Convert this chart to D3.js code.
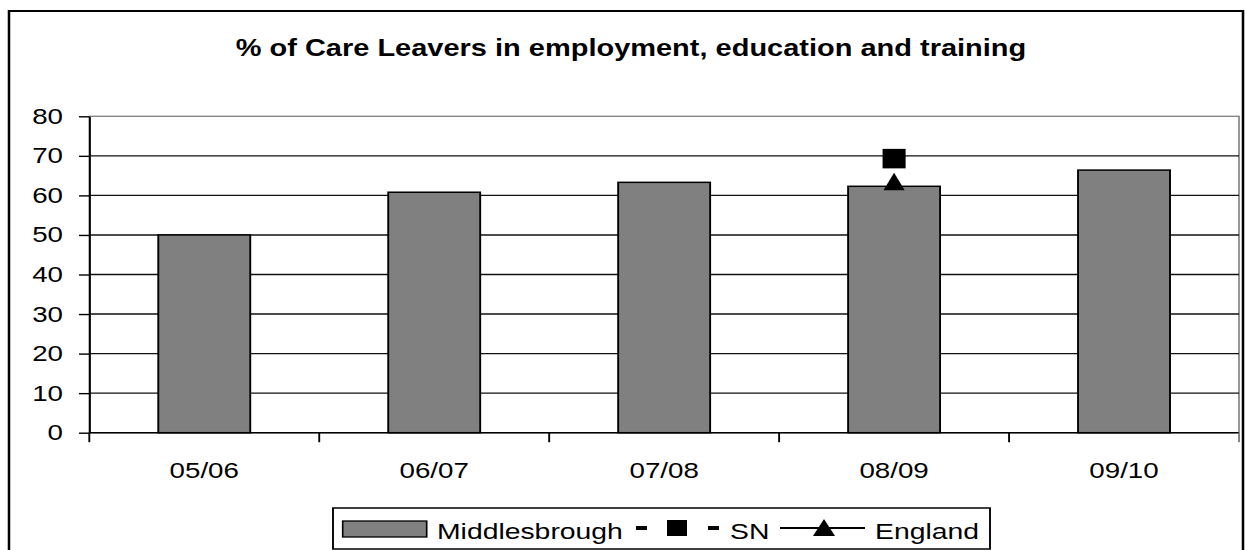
<!DOCTYPE html>
<html>
<head>
<meta charset="utf-8">
<script src="https://cdn.jsdelivr.net/npm/d3@7/dist/d3.min.js"></script>
<style>
  html, body { margin: 0; padding: 0; background: #fff; }
  svg { display: block; font-family: Arial, 'Liberation Sans', sans-serif; }
</style>
</head>
<body>
<div id="chart"></div>
<script>
// data
const periods = ['05/06', '06/07', '07/08', '08/09', '09/10'];
const middlesbrough = [50, 60.8, 63.3, 62.3, 66.4];
const snPoints = [{ period: '08/09', value: 69.3 }];
const englandPoints = [{ period: '08/09', value: 63.5 }];
const yTicks = [0, 10, 20, 30, 40, 50, 60, 70, 80];

function drawChart() {
    const outW = 1245, outH = 550;
    // the original picture is stretched sideways, so draw in a narrower box and stretch it
    const sx = 1.26;
    const W = outW / sx;
    const plot = { left: 89.3 / sx, right: 1239 / sx, top: 116.3, bottom: 432.7 };

    const svg = d3.select('#chart')
        .append('svg')
        .attr('width', outW)
        .attr('height', outH)
        .attr('viewBox', `0 0 ${W} ${outH}`)
        .attr('preserveAspectRatio', 'none');

    // outer chart border
    svg.append('rect')
        .attr('x', 9 / sx)
        .attr('y', 11)
        .attr('width', (1243 - 9) / sx)
        .attr('height', 560)
        .attr('fill', '#fff')
        .attr('stroke', '#000')
        .attr('stroke-width', 2);

    // title
    svg.append('text')
        .attr('x', 631 / sx)
        .attr('y', 56)
        .attr('text-anchor', 'middle')
        .attr('font-size', 23)
        .attr('font-weight', 'bold')
        .text('% of Care Leavers in employment, education and training');

    // scales
    const x = d3.scaleBand()
        .domain(periods)
        .range([plot.left, plot.right])
        .paddingInner(0.6)
        .paddingOuter(0.3);
    const y = d3.scaleLinear()
        .domain([0, 80])
        .range([plot.bottom, plot.top]);

    // plot area border (grey)
    svg.append('rect')
        .attr('x', plot.left)
        .attr('y', plot.top)
        .attr('width', plot.right - plot.left)
        .attr('height', plot.bottom - plot.top)
        .attr('fill', 'none')
        .attr('stroke', '#808080')
        .attr('stroke-width', 1.3);

    // gridlines
    svg.append('g')
        .selectAll('line')
        .data(yTicks.filter(d => d > 0 && d < 80))
        .join('line')
        .attr('x1', plot.left)
        .attr('x2', plot.right)
        .attr('y1', d => y(d))
        .attr('y2', d => y(d))
        .attr('stroke', '#111')
        .attr('stroke-width', 1.4);

    // bars
    svg.append('g')
        .selectAll('rect')
        .data(periods)
        .join('rect')
        .attr('x', d => x(d))
        .attr('y', (d, i) => y(middlesbrough[i]))
        .attr('width', x.bandwidth())
        .attr('height', (d, i) => y(0) - y(middlesbrough[i]))
        .attr('fill', '#808080')
        .attr('stroke', '#000')
        .attr('stroke-width', 1.5);

    // y axis
    const yAxis = svg.append('g')
        .attr('transform', `translate(${plot.left},0)`)
        .call(d3.axisLeft(y).tickValues(yTicks).tickSize(8.2).tickSizeOuter(0).tickPadding(12.7));
    yAxis.select('.domain').attr('stroke', '#000').attr('stroke-width', 1.5);
    yAxis.selectAll('.tick line').attr('stroke', '#000').attr('stroke-width', 1.4);
    yAxis.selectAll('.tick text')
        .attr('font-size', 22)
        .attr('font-family', "Arial, 'Liberation Sans', sans-serif")
        .attr('fill', '#000');

    // x axis line and category boundary ticks
    svg.append('line')
        .attr('x1', plot.left)
        .attr('x2', plot.right)
        .attr('y1', y(0))
        .attr('y2', y(0))
        .attr('stroke', '#000')
        .attr('stroke-width', 1.5);
    const edges = periods.map(p => x(p) - x.step() * x.paddingInner() / 2);
    edges.push(plot.right);
    svg.append('g')
        .selectAll('line')
        .data(edges)
        .join('line')
        .attr('x1', d => d)
        .attr('x2', d => d)
        .attr('y1', y(0))
        .attr('y2', y(0) + 9.5)
        .attr('stroke', (d, i) => i === edges.length - 1 ? '#808080' : '#000')
        .attr('stroke-width', 1.5);
    svg.append('g')
        .selectAll('text')
        .data(periods)
        .join('text')
        .attr('x', d => x(d) + x.bandwidth() / 2)
        .attr('y', 478)
        .attr('text-anchor', 'middle')
        .attr('font-size', 22)
        .text(d => d);

    // SN markers (squares)
    const sq = 18.3, sqH = 19.5;
    svg.append('g')
        .selectAll('rect')
        .data(snPoints)
        .join('rect')
        .attr('x', d => x(d.period) + x.bandwidth() / 2 - sq / 2)
        .attr('y', d => y(d.value) - sqH / 2)
        .attr('width', sq)
        .attr('height', sqH)
        .attr('fill', '#000');

    // England markers (triangles)
    const triW = 8.4, triH = 17.4;
    const tri = (cx, cy) => `M${cx},${cy - triH / 2}L${cx + triW},${cy + triH / 2}L${cx - triW},${cy + triH / 2}Z`;
    svg.append('g')
        .selectAll('path')
        .data(englandPoints)
        .join('path')
        .attr('d', d => tri(x(d.period) + x.bandwidth() / 2, y(d.value)))
        .attr('fill', '#000');

    // legend
    const lg = svg.append('g');
    lg.append('rect')
        .attr('x', 333 / sx)
        .attr('y', 508)
        .attr('width', (990 - 333) / sx)
        .attr('height', 41)
        .attr('fill', '#fff')
        .attr('stroke', '#000')
        .attr('stroke-width', 1.5);
    lg.append('rect')
        .attr('x', 342.7 / sx)
        .attr('y', 521)
        .attr('width', 84 / sx)
        .attr('height', 16)
        .attr('fill', '#808080')
        .attr('stroke', '#000')
        .attr('stroke-width', 1.3);
    lg.append('text')
        .attr('x', 437 / sx)
        .attr('y', 539)
        .attr('font-size', 22.5)
        .text('Middlesbrough');
    lg.append('line')
        .attr('x1', 636 / sx)
        .attr('x2', 719 / sx)
        .attr('y1', 528)
        .attr('y2', 528)
        .attr('stroke', '#000')
        .attr('stroke-width', 4)
        .attr('stroke-dasharray', `${11 / sx} ${61 / sx}`);
    lg.append('rect')
        .attr('x', 667 / sx)
        .attr('y', 520)
        .attr('width', 20 / sx)
        .attr('height', 16)
        .attr('fill', '#000');
    lg.append('text')
        .attr('x', 730 / sx)
        .attr('y', 539)
        .attr('font-size', 22.5)
        .text('SN');
    lg.append('line')
        .attr('x1', 780 / sx)
        .attr('x2', 865 / sx)
        .attr('y1', 528)
        .attr('y2', 528)
        .attr('stroke', '#000')
        .attr('stroke-width', 2);
    lg.append('path')
        .attr('d', `M${824 / sx},519L${(824 + 11) / sx},536L${(824 - 11) / sx},536Z`)
        .attr('fill', '#000');
    lg.append('text')
        .attr('x', 875 / sx)
        .attr('y', 539)
        .attr('font-size', 22.5)
        .text('England');
}

window.addEventListener('load', drawChart);
</script>
</body>
</html>
